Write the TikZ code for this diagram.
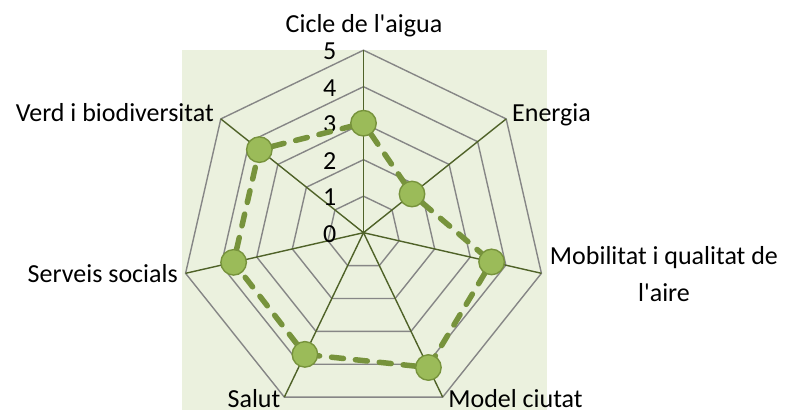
\documentclass[tikz,border=0pt]{standalone}
\usepackage{fontspec}
\setmainfont{Carlito}

\definecolor{achse}{HTML}{4F6228}
\definecolor{gitter}{HTML}{868686}
\definecolor{flaeche}{HTML}{EBF1DE}
\definecolor{punktfill}{HTML}{9BBB59}
\definecolor{linie}{HTML}{77933C}

\pgfdeclarelayer{vorne}
\pgfsetlayers{main,vorne}

\tikzset{
  gitterlinie/.style={draw=gitter, line width=1.4pt, line join=miter},
  achsenlinie/.style={draw=achse, line width=1.4pt},
  wert/.style={circle, fill=punktfill, draw=linie, line width=1.4pt, minimum size=25.5pt, inner sep=0pt},
  wertlinie/.style={draw=linie, line width=5.5pt, line cap=round, dash pattern=on 12pt off 12pt},
  beschriftung/.style={inner sep=0pt}
}

\begin{document}
\begin{tikzpicture}[x=1pt, y=1pt, font=\fontsize{26}{36.7}\selectfont]
\clip (0,0) rectangle (785,410);
% Hintergrund
\fill[flaeche] (181.7,0) rectangle (547,360);

\begin{scope}[shift={(363.5,177.3)}]
\coordinate (m) at (0,0);

% Gitter
\foreach \r in {1,...,5}
  \draw[gitterlinie] (90:\r*36.5) \foreach \k in {1,...,6} { -- (90-\k*360/7:\r*36.5) } -- cycle;

% Achsen
\foreach \k in {0,...,6} {
  \coordinate (e\k) at (90-\k*360/7:5*36.5);
  \draw[achsenlinie] (m) -- (e\k);
}

% Skala
\foreach \r in {0,...,5}
  \node[beschriftung, anchor=east] (s\r) at (-27,\r*36.5-1) {\r};

% Werte
\begin{pgfonlayer}{vorne}
\foreach \w [count=\i from 0] in {3,1.7,3.6,4.1,3.7,3.65,3.65}
  \node[wert] (p\i) at (90-\i*360/7:\w*36.5) {};
\end{pgfonlayer}
\draw[wertlinie] (p0) -- (p1) -- (p2) -- (p3) -- (p4) -- (p5) -- (p6) -- (p0); % gestrichelt
\end{scope}

% Kategorien
\node[beschriftung, anchor=base] (n0) at (364,377.7) {Cicle de l\textquotesingle aigua};
\node[beschriftung, anchor=base west] (n1) at (512,288.3) {Energia};
\node[beschriftung, align=center] (n2) at (664,136) {Mobilitat i qualitat de\\l\textquotesingle aire};
\node[beschriftung, anchor=base] (n3) at (515.5,2.5) {Model ciutat};
\node[beschriftung, anchor=base] (n4) at (254,2.5) {Salut};
\node[beschriftung, anchor=base east] (n5) at (178,127.7) {Serveis socials};
\node[beschriftung, anchor=base east] (n6) at (214,288.3) {Verd i biodiversitat};
\end{tikzpicture}
\end{document}
